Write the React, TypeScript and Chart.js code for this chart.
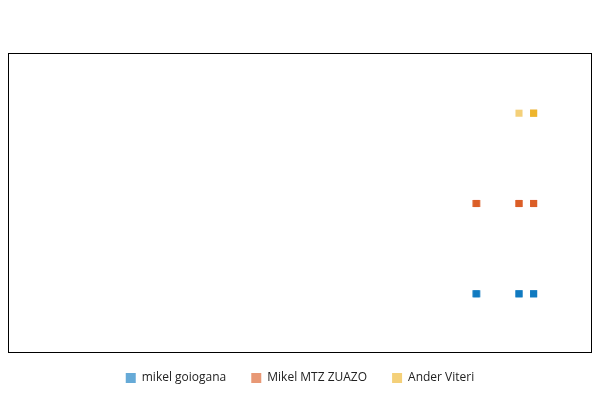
import React, { useEffect, useRef } from "react";
import { Chart, registerables } from "chart.js";

Chart.register(...registerables);

const seriesNames = ["mikel goiogana", "Mikel MTZ ZUAZO", "Ander Viteri"];
const seriesColors = ["rgba(0,114,189,0.6)", "rgba(217,83,25,0.6)", "rgba(237,177,32,0.6)"];
// x positions of each point (overlapping points stack darker)
const blueX = [80.1, 80.2, 80.3, 87.5, 87.5, 87.5, 90.0, 90.0, 90.0];
const blueY = [1, 1, 1, 1, 1, 1, 1, 1, 1];
const orangeX = [80.1, 80.2, 80.3, 87.5, 87.5, 87.5, 90.0, 90.0, 90.0];
const orangeY = [2, 2, 2, 2, 2, 2, 2, 2, 2];
const yellowX = [87.5, 90.0, 90.0, 90.0];
const yellowY = [3, 3, 3, 3];

const frame = {
  id: "frame",
  beforeUpdate(chart: any) {
    const lg = chart.legend;
    if (lg && !lg.__patched) {
      lg.__patched = true;
      const fit = lg.fit;
      lg.fit = function (this: any) {
        fit.call(this);
        this.height -= 8;
      };
      const draw = lg.draw;
      lg.draw = function (this: any, ...args: any[]) {
        this.top -= 6;
        this.bottom -= 6;
        draw.apply(this, args);
        this.top += 6;
        this.bottom += 6;
      };
    }
  },
  afterDraw(chart: any) {
    const { ctx, chartArea: a } = chart;
    ctx.save();
    ctx.strokeStyle = "#000";
    ctx.lineWidth = 1;
    ctx.strokeRect(Math.round(a.left) + 0.5, Math.round(a.top) + 0.5, Math.round(a.right - a.left) - 1, Math.round(a.bottom - a.top) - 1);
    ctx.restore();
  },
};

export default function App() {
  const ref = useRef<HTMLCanvasElement>(null);
  useEffect(() => {
    const toPts = (xs: number[], ys: number[]) => xs.map((x, i) => ({ x, y: ys[i] }));
    const all = [toPts(blueX, blueY), toPts(orangeX, orangeY), toPts(yellowX, yellowY)];
    const chart = new Chart(ref.current!, {
      type: "scatter",
      data: {
        datasets: all.map((d, i) => ({
          label: seriesNames[i],
          data: d,
          backgroundColor: seriesColors[i],
          borderWidth: 0,
          pointStyle: "rect",
          pointRadius: 5,
        })),
      },
      options: {
        animation: false,
        responsive: false,
        layout: { autoPadding: false, padding: { top: 45, left: 0, right: 0, bottom: 0 } },
        scales: {
          x: { display: false, min: 0, max: 100 },
          y: { display: false, min: 0.344, max: 3.667 },
        },
        plugins: {
          tooltip: { enabled: false },
          legend: {
            position: "bottom",
            labels: {
              boxWidth: 10,
              boxHeight: 10,
              padding: 25,
              color: "#222",
              font: { family: "'Open Sans', sans-serif", size: 12 },
            },
          },
        },
      },
      plugins: [frame],
    });
    return () => chart.destroy();
  }, []);
  return (
    <div style={{ width: 584, height: 384 }}>
      <canvas ref={ref} width={584} height={384} />
    </div>
  );
}
